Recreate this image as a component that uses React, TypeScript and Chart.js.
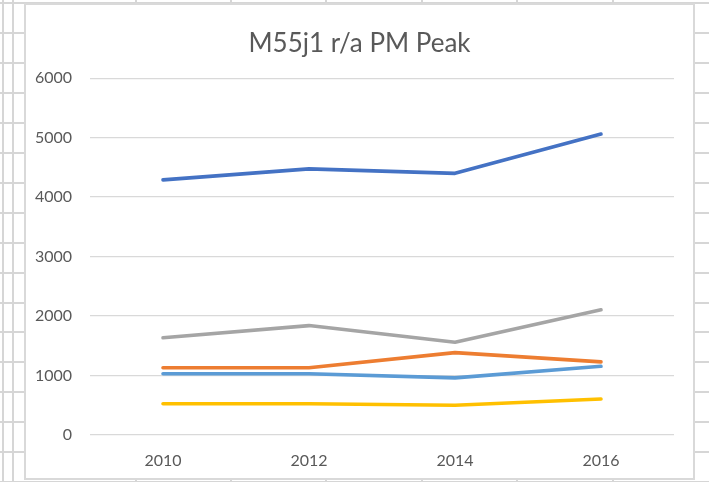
import React, { useEffect, useRef } from "react";
import { Chart, registerables } from "chart.js";

Chart.register(...registerables);

const categories = ["2010", "2012", "2014", "2016"];
const seriesDarkBlue = [4290, 4475, 4400, 5060];
const seriesOrange = [1130, 1130, 1385, 1230];
const seriesGray = [1635, 1840, 1560, 2105];
const seriesYellow = [525, 525, 500, 605];
const seriesLightBlue = [1030, 1030, 960, 1155];
const yTicks = [0, 1000, 2000, 3000, 4000, 5000, 6000];
const chartTitle = "M55j1 r/a PM Peak";

const FONT = "Lato, 'Open Sans', 'Liberation Sans', sans-serif";
const TEXT = "#595959";
const GRID = "#d9d9d9";
const SHEET = "#d6d6d6";

export default function App() {
  const ref = useRef<HTMLCanvasElement | null>(null);

  useEffect(() => {
    if (!ref.current) return;
    const mk = (label: string, data: number[], color: string) => ({
      label,
      data,
      borderColor: color,
      backgroundColor: color,
      borderWidth: 3.6,
      borderCapStyle: "round" as const,
      borderJoinStyle: "round" as const,
      pointRadius: 0,
      tension: 0,
      fill: false,
      yAxisID: "y",
    });
    const chart = new Chart(ref.current, {
      type: "line",
      data: {
        labels: categories,
        datasets: [
          mk("Series5", seriesLightBlue, "#5B9BD5"),
          mk("Series4", seriesYellow, "#FFC000"),
          mk("Series3", seriesGray, "#A5A5A5"),
          mk("Series2", seriesOrange, "#ED7D31"),
          mk("Series1", seriesDarkBlue, "#4472C4"),
        ],
      },
      options: {
        animation: false,
        responsive: false,
        devicePixelRatio: 1,
        layout: { padding: 0 },
        plugins: {
          legend: { display: false },
          tooltip: { enabled: false },
          title: {
            display: true,
            text: chartTitle,
            color: TEXT,
            font: { family: FONT, size: 26, weight: "normal" },
            padding: { top: 23, bottom: 19 },
          },
        },
        scales: {
          x: {
            type: "category",
            offset: true,
            grid: { display: false, drawTicks: false },
            border: { display: false },
            ticks: {
              color: TEXT,
              font: { family: FONT, size: 16 },
              padding: 16,
              maxRotation: 0,
            },
            afterFit: (s: any) => {
              s.height = 43;
            },
          },
          y: {
            min: 0,
            max: 6000,
            afterBuildTicks: (s: any) => {
              s.ticks = yTicks.map((v) => ({ value: v }));
            },
            grid: { color: GRID, lineWidth: 1.3, drawTicks: false },
            border: { display: false },
            ticks: {
              color: TEXT,
              font: { family: FONT, size: 16 },
              padding: 18,
              callback: (v: any) => String(v),
            },
            afterFit: (s: any) => {
              s.width = 64;
            },
          },
          yRight: {
            position: "right",
            min: 0,
            max: 6000,
            grid: { display: false, drawTicks: false },
            border: { display: false },
            ticks: { display: false },
            afterFit: (s: any) => {
              s.width = 19;
            },
          },
        },
      },
    });
    return () => chart.destroy();
  }, []);

  const vLines = [3, 13, 136, 231, 326, 422, 517, 613];

  return (
    <div
      style={{
        position: "absolute",
        left: 0,
        top: 0,
        width: 709,
        height: 482,
        overflow: "hidden",
        background: "#fff",
        backgroundImage: `repeating-linear-gradient(to bottom, transparent 0px, transparent 2px, ${SHEET} 2px, ${SHEET} 4px, transparent 4px, transparent 29.95px)`,
      }}
    >
      {vLines.map((x) => (
        <div
          key={x}
          style={{
            position: "absolute",
            left: x - 1,
            top: 0,
            width: 2,
            height: 482,
            background: SHEET,
          }}
        />
      ))}
      <div
        style={{
          position: "absolute",
          left: 24,
          top: 3,
          width: 671,
          height: 477,
          boxSizing: "border-box",
          border: `2px solid ${GRID}`,
          background: "#fff",
        }}
      >
        <canvas
          ref={ref}
          width={667}
          height={473}
          style={{ display: "block", width: 667, height: 473 }}
        />
      </div>
    </div>
  );
}
